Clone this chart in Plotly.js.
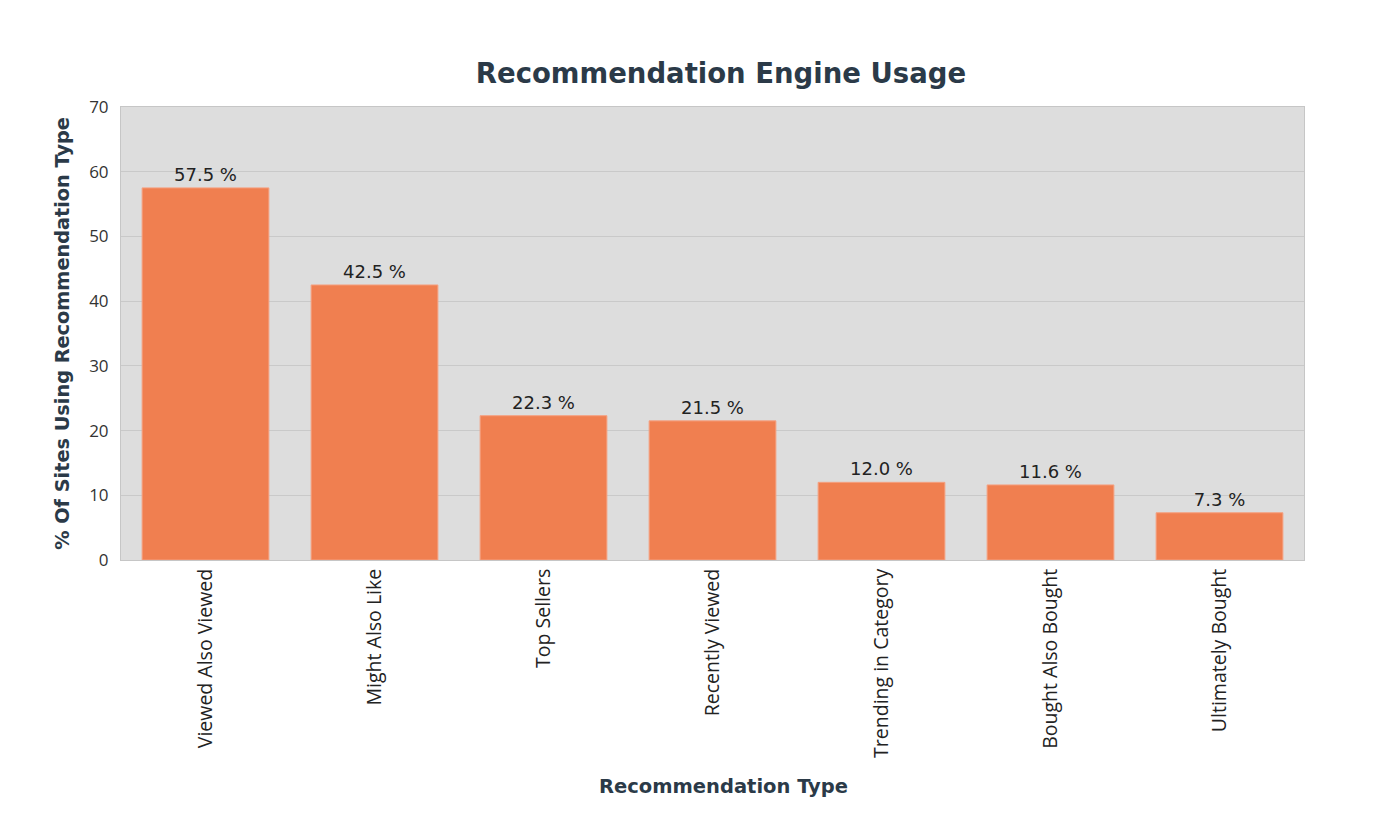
<!DOCTYPE html>
<html>
<head>
<meta charset="utf-8">
<script src="https://cdn.plot.ly/plotly-3.0.1.min.js"></script>
<style>html,body{margin:0;padding:0;background:#fff;}#chart{width:1400px;height:822px;}</style>
</head>
<body>
<div id="chart"></div>
<script>
const categories = ["Viewed Also Viewed", "Might Also Like", "Top Sellers", "Recently Viewed", "Trending in Category", "Bought Also Bought", "Ultimately Bought"];
const values = [57.5, 42.5, 22.3, 21.5, 12.0, 11.6, 7.3];
const labels = values.map(v => v.toFixed(1) + " %");

const trace = {
  type: "bar",
  x: categories,
  y: values,
  text: labels,
  textposition: "outside",
  cliponaxis: false,
  textfont: {family: "DejaVu Sans", size: 18, color: "#222"},
  marker: {color: "#f07f50", line: {color: "#f5a080", width: 1}},
  hoverinfo: "x+y"
};

const layout = {
  width: 1400, height: 822,
  margin: {l: 121, r: 96, t: 107, b: 262},
  paper_bgcolor: "#ffffff",
  plot_bgcolor: "#dddddd",
  bargap: 0.25,
  showlegend: false,
  title: {text: "Recommendation Engine Usage", x: 0.515, xanchor: "center", y: 0.911, yanchor: "middle",
    font: {family: "DejaVu Sans", size: 27.5, color: "#2b3a48", weight: "bold"}},
  xaxis: {
    tickangle: -90,
    tickfont: {family: "Open Sans", size: 19.5, color: "#222"},
    showline: true, linecolor: "#c6c6c6", linewidth: 1, mirror: true,
    ticks: "", ticklen: 0
  },
  yaxis: {
    range: [0, 70], dtick: 10,
    tickfont: {family: "Open Sans", size: 17, color: "#333"},
    gridcolor: "#c9c9c9", gridwidth: 1,
    showline: true, linecolor: "#c6c6c6", linewidth: 1, mirror: true,
    zeroline: false,
    ticks: "outside", ticklen: 8, tickcolor: "rgba(0,0,0,0)",
    title: {text: "% Of Sites Using Recommendation Type", standoff: 14, font: {family: "DejaVu Sans", size: 19.3, color: "#2b3a48", weight: "bold"}}
  },
  annotations: [{
    text: "Recommendation Type", xref: "paper", yref: "paper", x: 0.509, y: -0.5,
    xanchor: "center", yanchor: "middle", showarrow: false,
    font: {family: "DejaVu Sans", size: 19.5, color: "#2b3a48", weight: "bold"}
  }]
};

Plotly.newPlot("chart", [trace], layout, {displayModeBar: false, responsive: false});
</script>
</body>
</html>
